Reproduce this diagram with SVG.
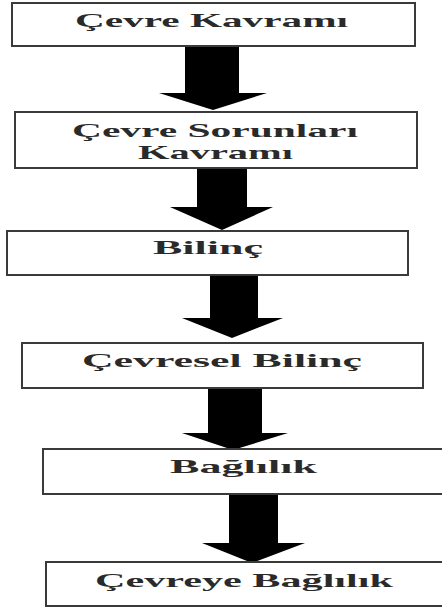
<svg xmlns="http://www.w3.org/2000/svg" width="442" height="613" viewBox="0 0 442 613">
<style>
.box{fill:#fff;stroke:#3a3a3a;stroke-width:2}
.lbl{font-family:"Liberation Serif","Times New Roman",serif;font-weight:bold;font-size:19px;fill:#2a2a2a}
.arr{fill:#000}
</style>
<rect width="442" height="613" fill="#fff"/>
<g id="connectors">
<path class="arr" d="M185,46 H239 V93 H267 L213,110 L159,93 H185 Z"/>
<path class="arr" d="M197,168 H247 V207 H273 L222,230 L170,207 H197 Z"/>
<path class="arr" d="M210,275 H258 V318 H283 L232,338 L182,318 H210 Z"/>
<path class="arr" d="M208,388 H262 V433 H288 L233,450 L182,433 H208 Z"/>
<path class="arr" d="M229,494 H278 V543 H305 L252,563 L202,543 H229 Z"/>
</g>
<g id="n1">
<rect class="box" x="12" y="3" width="403" height="43"/>
<text class="lbl" x="75" y="27" textLength="273" lengthAdjust="spacingAndGlyphs">Çevre Kavramı</text>
</g>
<g id="n2">
<rect class="box" x="15" y="112" width="402" height="56"/>
<text class="lbl" x="72" y="137" textLength="286" lengthAdjust="spacingAndGlyphs">Çevre Sorunları</text>
<text class="lbl" x="138" y="159" textLength="155" lengthAdjust="spacingAndGlyphs">Kavramı</text>
</g>
<g id="n3">
<rect class="box" x="7" y="231" width="401" height="44"/>
<text class="lbl" x="153" y="254" textLength="110" lengthAdjust="spacingAndGlyphs">Bilinç</text>
</g>
<g id="n4">
<rect class="box" x="22" y="343" width="401" height="45"/>
<text class="lbl" x="82" y="367" textLength="280" lengthAdjust="spacingAndGlyphs">Çevresel Bilinç</text>
</g>
<g id="n5">
<rect class="box" x="43" y="449" width="410" height="45"/>
<text class="lbl" x="170" y="473" textLength="147" lengthAdjust="spacingAndGlyphs">Bağlılık</text>
</g>
<g id="n6">
<rect class="box" x="46" y="562" width="410" height="44"/>
<text class="lbl" x="95" y="587" textLength="298" lengthAdjust="spacingAndGlyphs">Çevreye Bağlılık</text>
</g>
</svg>
